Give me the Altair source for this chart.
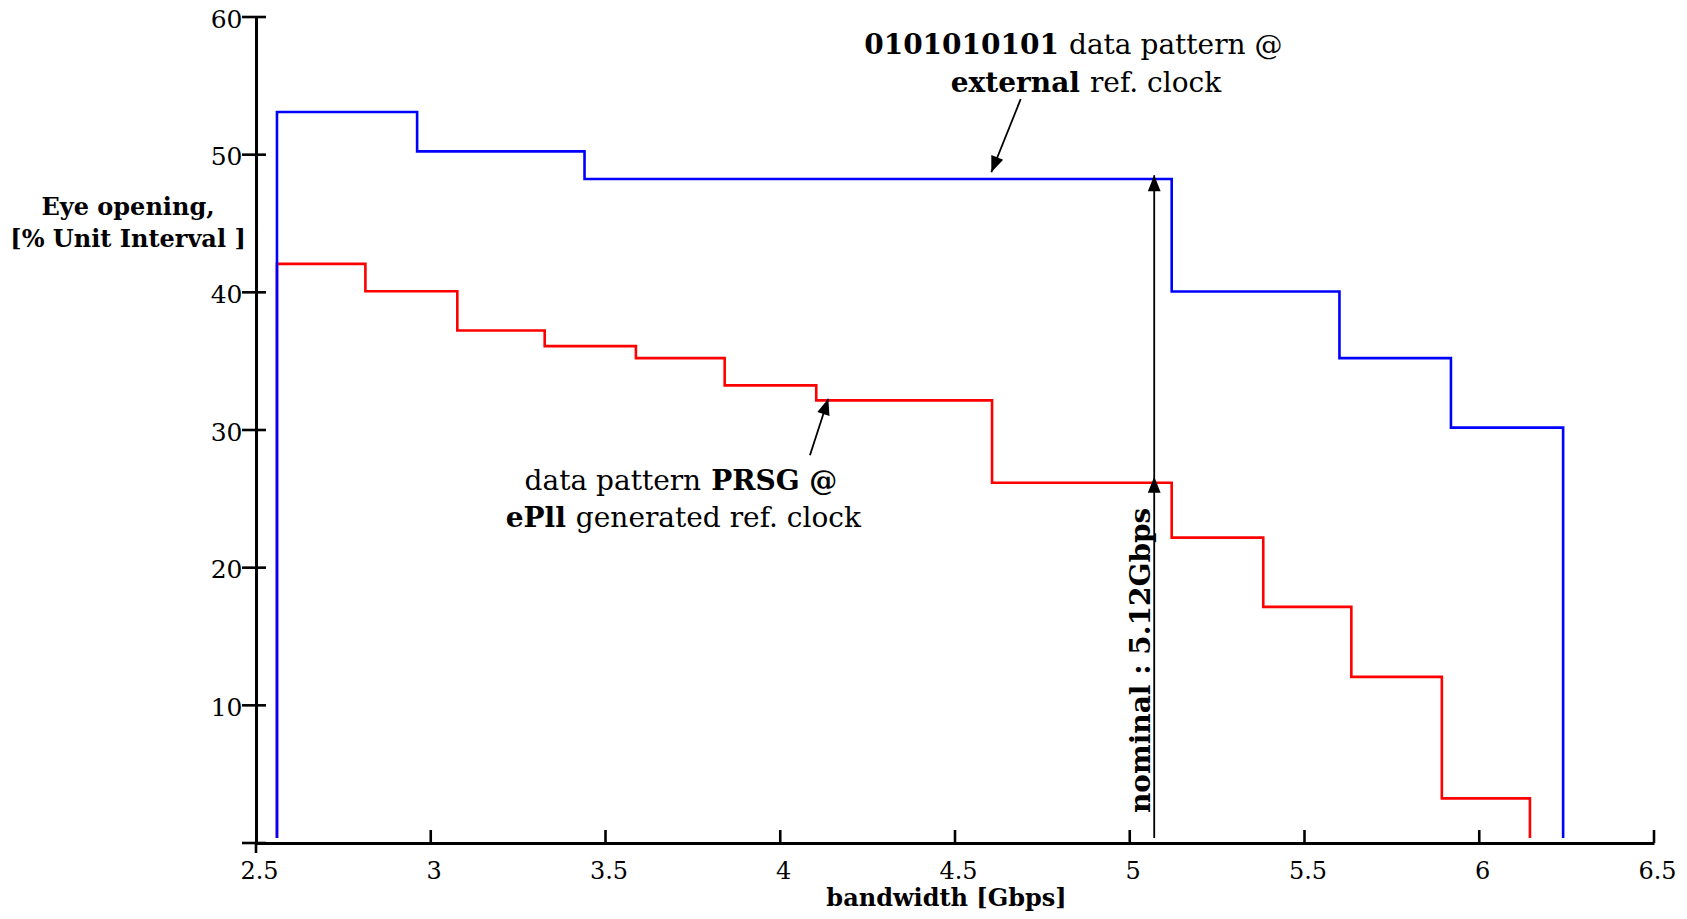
import altair as alt
import pandas as pd

# ---- data ----
blue_x = [2.56, 2.961, 3.44, 5.12, 5.60, 5.919]
blue_y = [53.1, 50.24, 48.23, 40.06, 35.22, 30.17]
blue_end = 6.24

red_x = [2.56, 2.813, 3.076, 3.326, 3.587, 3.841, 4.103, 4.606, 5.12, 5.382, 5.634, 5.893]
red_y = [42.07, 40.08, 37.23, 36.09, 35.22, 33.24, 32.15, 26.17, 22.18, 17.15, 12.07, 3.24]
red_end = 6.145

line_floor = 0.36

x_ticks = [2.5, 3, 3.5, 4, 4.5, 5, 5.5, 6, 6.5]
x_ticks_up = [3, 3.5, 4, 4.5, 5, 5.5, 6, 6.5]
x_ticks_down = [2.5]
y_labels = [10, 20, 30, 40, 50, 60]
y_ticks = [0, 10, 20, 30, 40, 50, 60]

# nominal marker
nominal_x = 5.07
nominal_y0 = 0.36
nominal_y1 = 48.5
nominal_head_y = [48.5, 26.6]

# annotation arrows: (x_start, y_start, x_tip, y_tip, angle)
ann_x0 = [4.688, 4.085]
ann_y0 = [54.04, 28.16]
ann_x1 = [4.604, 4.1375]
ann_y1 = [48.72, 32.27]
ann_angle = [201.6, 17.9]

# annotation texts (bold part right of split, regular part left of split)
txt_split_x = [4.809, 4.869, 3.788, 3.398]
txt_y = [57.33, 54.55, 25.62, 22.93]
txt_bold_left = ["0101010101", "external", None, "ePll"]
txt_plain_right = ["data pattern @", "ref. clock", None, "generated ref. clock"]
# line 3 is "data pattern " (plain, left) + "PRSG @" (bold, right)
red_line1_plain = "data pattern"
red_line1_bold = "PRSG @"

nominal_text = "nominal : 5.12Gbps"
nominal_text_x = 5.058
nominal_text_y = 2.18

W, H = 1398, 826
FONT = "DejaVu Serif"


def step_table(xs, ys, x_end, floor, name):
    rows = [(xs[0], floor)]
    rows += list(zip(xs, ys))
    rows += [(x_end, ys[-1]), (x_end, floor)]
    return pd.DataFrame({"x": [r[0] for r in rows], "y": [r[1] for r in rows],
                         "o": list(range(len(rows))), "s": name})


blue_df = step_table(blue_x, blue_y, blue_end, line_floor, "blue")
red_df = step_table(red_x, red_y, red_end, line_floor, "red")

xscale = alt.Scale(domain=[2.5, 6.5], nice=False, zero=False)
yscale = alt.Scale(domain=[0, 60], nice=False, zero=False)

X = alt.X("x:Q", scale=xscale, axis=alt.Axis(
    values=x_ticks, format="~g", grid=False, ticks=False, tickSize=0,
    domainColor="black", domainWidth=3, labelFlush=False, labelOffset=3,
    labelFont=FONT, labelFontSize=24, labelColor="black", labelPadding=16,
    title="bandwidth  [Gbps]", titleFont=FONT, titleFontSize=24,
    titleFontWeight="bold", titleColor="black", titleX=690, titleY=62,
    titleBaseline="alphabetic", titleAlign="center"))
Y = alt.Y("y:Q", scale=yscale, axis=alt.Axis(
    values=y_labels, format="d", grid=False, ticks=False, tickSize=0,
    domainColor="black", domainWidth=3, labelFlush=False,
    labelFont=FONT, labelFontSize=25, labelColor="black", labelPadding=14,
    labelOffset=2, title=None))
X2 = alt.X2("x2:Q")
Y2 = alt.Y2("y2:Q")

red_line = alt.Chart(red_df).mark_line(interpolate="step-after", color="#ff0000",
                                       strokeWidth=2.6).encode(x=X, y=Y, order="o:Q")
blue_line = alt.Chart(blue_df).mark_line(interpolate="step-after", color="#0000ff",
                                         strokeWidth=2.6).encode(x=X, y=Y, order="o:Q")

# tick marks
ytick_df = pd.DataFrame({"y": y_ticks})
yticks = alt.Chart(ytick_df).mark_rule(color="black", strokeWidth=2.6).encode(
    y=Y, x=alt.value(-14), x2=alt.value(10))
xup_df = pd.DataFrame({"x": x_ticks_up})
xticks_up = alt.Chart(xup_df).mark_rule(color="black", strokeWidth=2.6).encode(
    x=X, y=alt.value(H - 13), y2=alt.value(H))
xdown_df = pd.DataFrame({"x": x_ticks_down})
xticks_down = alt.Chart(xdown_df).mark_rule(color="black", strokeWidth=2.6).encode(
    x=X, y=alt.value(H), y2=alt.value(H + 10))

# nominal arrow
nom_df = pd.DataFrame({"x": [nominal_x], "y": [nominal_y0], "y2": [nominal_y1]})
nom_rule = alt.Chart(nom_df).mark_rule(color="black", strokeWidth=1.8).encode(x=X, y=Y, y2=Y2)

head_shape = "M0,0L-0.4,1L0.4,1Z"
heads_df = pd.DataFrame({
    "x": [nominal_x] * len(nominal_head_y) + ann_x1,
    "y": nominal_head_y + ann_y1,
    "a": [0.0] * len(nominal_head_y) + ann_angle,
})
heads = alt.Chart(heads_df).mark_point(shape=head_shape, filled=True, size=1024,
                                       color="black", opacity=1, strokeWidth=0).encode(
    x=X, y=Y, angle=alt.Angle("a:Q", scale=None))

ann_df = pd.DataFrame({"x": ann_x0, "y": ann_y0, "x2": ann_x1, "y2": ann_y1})
ann_rules = alt.Chart(ann_df).mark_rule(color="black", strokeWidth=1.8).encode(
    x=X, y=Y, x2=X2, y2=Y2)

# nominal text (rotated)
nomtxt_df = pd.DataFrame({"x": [nominal_text_x], "y": [nominal_text_y], "t": [nominal_text]})
nom_text = alt.Chart(nomtxt_df).mark_text(angle=270, align="left", baseline="alphabetic",
                                          font=FONT, fontSize=28, fontWeight="bold",
                                          color="black").encode(x=X, y=Y, text="t:N")

# annotation texts
bold_right_rows = {"x": [], "y": [], "t": []}   # bold, right aligned at split
plain_left_rows = {"x": [], "y": [], "t": []}   # plain, left aligned at split
plain_right_rows = {"x": [], "y": [], "t": []}  # plain, right aligned at split
bold_left_rows = {"x": [], "y": [], "t": []}    # bold, left aligned at split
for i in range(4):
    if txt_bold_left[i] is not None:
        bold_right_rows["x"].append(txt_split_x[i]); bold_right_rows["y"].append(txt_y[i])
        bold_right_rows["t"].append(txt_bold_left[i])
        plain_left_rows["x"].append(txt_split_x[i]); plain_left_rows["y"].append(txt_y[i])
        plain_left_rows["t"].append(txt_plain_right[i])
    else:
        plain_right_rows["x"].append(txt_split_x[i]); plain_right_rows["y"].append(txt_y[i])
        plain_right_rows["t"].append(red_line1_plain)
        bold_left_rows["x"].append(txt_split_x[i]); bold_left_rows["y"].append(txt_y[i])
        bold_left_rows["t"].append(red_line1_bold)

def text_layer(rows, align, weight, dx):
    return alt.Chart(pd.DataFrame(rows)).mark_text(
        align=align, baseline="alphabetic", font=FONT, fontSize=28,
        fontWeight=weight, color="black", dx=dx).encode(x=X, y=Y, text="t:N")

t1 = text_layer(bold_right_rows, "right", "bold", -4)
t2 = text_layer(plain_left_rows, "left", "normal", 6)
t3 = text_layer(plain_right_rows, "right", "normal", -5)
t4 = text_layer(bold_left_rows, "left", "bold", 5)

# y axis title (two lines, horizontal, left of the axis)
ytitle_lines = ["Eye opening,", "[% Unit Interval ]"]
ytitle_df = pd.DataFrame({"t": ytitle_lines, "py": [198, 230]})
ytitle = alt.Chart(ytitle_df).mark_text(align="center", baseline="alphabetic", font=FONT,
                                        fontSize=24, fontWeight="bold", color="black").encode(
    x=alt.value(-128), y=alt.Y("py:Q", scale=None), text="t:N")

chart = alt.layer(
    red_line, blue_line, yticks, xticks_up, xticks_down,
    nom_rule, ann_rules, heads, nom_text, t1, t2, t3, t4, ytitle
).properties(
    width=W, height=H,
    autosize=alt.AutoSizeParams(type="none"),
    padding={"left": 248, "top": 9, "right": 25, "bottom": 68},
    background="white",
).configure_view(stroke=None)

chart.save("out.html", embed_options={"renderer": "svg", "actions": False})
